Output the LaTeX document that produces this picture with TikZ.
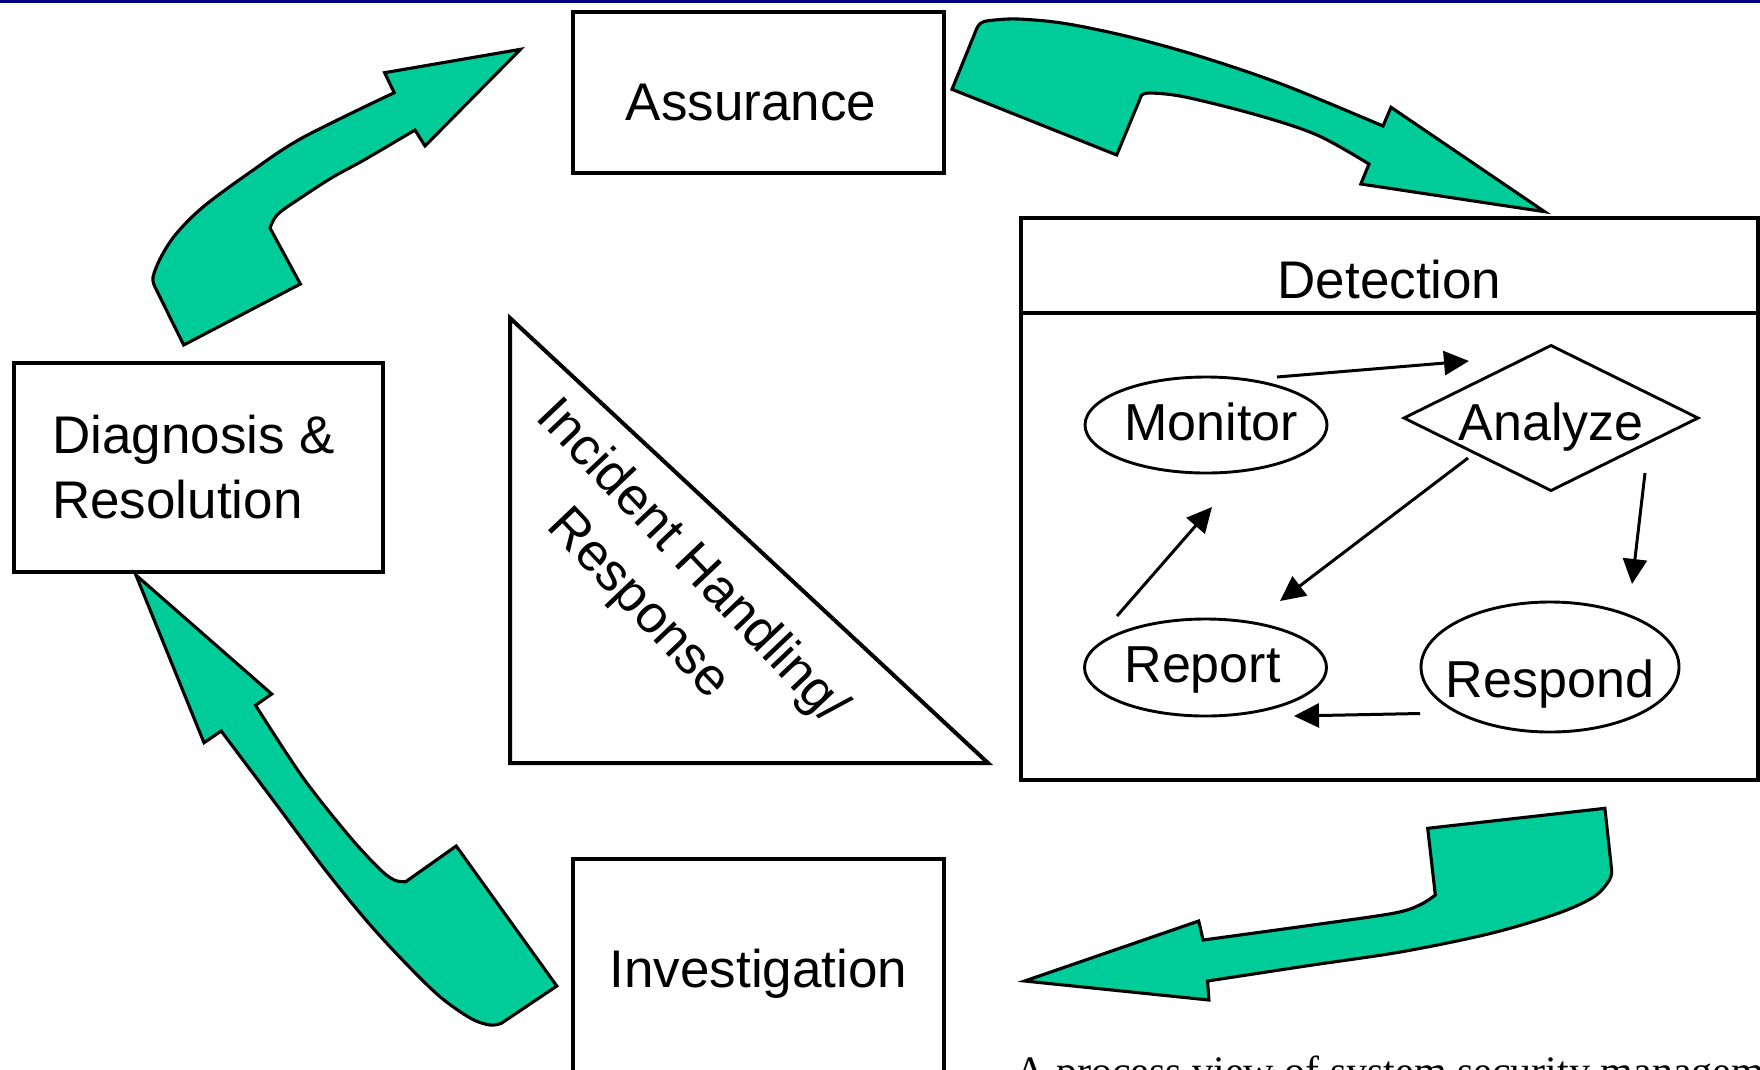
\documentclass[tikz,border=0pt]{standalone}
\usepackage{fontspec}
\setmainfont{Liberation Sans}
\newfontfamily\capfont{Liberation Serif}
\usetikzlibrary{shapes.geometric,arrows.meta}
\definecolor{arrowgreen}{RGB}{0,204,153}
\definecolor{topnavy}{RGB}{0,0,128}
\begin{document}
\begin{tikzpicture}[x=1pt,y=-1pt,
  bigfont/.style={font=\fontsize{53}{65}\selectfont},
  smallfont/.style={font=\fontsize{52}{62}\selectfont},
  boxnode/.style={draw, rectangle, line width=3.3pt, inner sep=0pt, outer sep=0pt, bigfont},
  ellnode/.style={draw, ellipse, line width=2.9pt, inner sep=0pt, outer sep=0pt, smallfont},
  dianode/.style={draw, diamond, line width=2.9pt, inner sep=0pt, outer sep=0pt, smallfont},
  flow/.style={line width=3pt, -{Triangle[length=25pt,width=24pt]}},
  bigarrow/.style={fill=arrowgreen, draw=black, line width=3.1pt, line join=miter}
]
\useasboundingbox (0,0) rectangle (1760,1069);
\clip (0,0) rectangle (1760,1069);
\fill[topnavy] (0,0) rectangle (1760,2.5);

% green process arrows
\draw[bigarrow] (183.7,345) -- (300.4,284) -- (270,228)
 -- plot[smooth, tension=0.55] coordinates {(270,228) (278,214) (302,197) (333,177) (364,160) (415,130)}
 -- (425,146) -- (520.5,49.3) -- (384.6,72.7) -- (394.2,92.7)
 -- plot[smooth, tension=0.55] coordinates {(394.2,92.7) (302,138) (249,173) (203,207) (176,234) (161,257) (153,277) (155,287)}
 -- cycle;
\draw[bigarrow] (952,89.3) -- (976.8,28.3)
 -- plot[smooth, tension=0.55] coordinates {(976.8,28.3) (981,23) (990,20.5) (1018,19) (1065,23.5) (1130,37) (1202,57) (1284,85) (1383,126)}
 -- (1391,107.3) -- (1544.6,211.7) -- (1360.8,184) -- (1369,164)
 -- plot[smooth, tension=0.55] coordinates {(1369,164) (1317,135) (1257,115) (1185,97) (1150,93) (1141.4,95.5)}
 -- (1116.7,155) -- cycle;
\draw[bigarrow] (1427.7,828.3) -- (1604.9,808.3) -- (1611.6,870)
 -- plot[smooth, tension=0.55] coordinates {(1611.6,870) (1609.4,880) (1594,896.7) (1558,913.3) (1491,933.3) (1402,951.7) (1312.5,965) (1207.6,981)}
 -- (1208.9,1000) -- (1024.6,981) -- (1198.7,921) -- (1203.1,940)
 -- plot[smooth, tension=0.55] coordinates {(1203.1,940) (1312.5,925) (1393,913.3) (1419.6,905) (1435.3,895)}
 -- cycle;
\draw[bigarrow] (135.9,575) -- (271.7,694) -- (255.6,705.3)
 -- plot[smooth, tension=0.55] coordinates {(255.6,705.3) (302.3,776.7) (348.3,835) (378.9,868.3) (394.2,880) (405.7,881.7)}
 -- (456.2,846) -- (556.8,986) -- (501.3,1023.3)
 -- plot[smooth, tension=0.55] coordinates {(501.3,1023.3) (490,1025) (470.7,1018.3) (440,996.7) (405.7,963.3) (367.4,921.7) (325.3,870) (275.5,803.3) (221.2,731)}
 -- (204,742.7) -- cycle;

% boxes
\node[boxnode, minimum width=371pt, minimum height=161pt, text height=60pt, text depth=5pt] (assur) at (758.5,92.5) {\hspace*{-15pt}Assurance};
\node[boxnode, minimum width=371pt, minimum height=232pt, text height=38pt, text depth=14pt] (invest) at (758.5,975) {Investigation};
\node[boxnode, minimum width=369pt, minimum height=209pt, align=left] (diag) at (198.5,467.5) {\hspace*{-10pt}Diagnosis \&\\\hspace*{-10pt}Resolution};
\node[boxnode, minimum width=737pt, minimum height=95pt, text height=70pt, text depth=5pt] (dethead) at (1389.5,265.5) {Detection};
\node[boxnode, minimum width=737pt, minimum height=467pt] (detbody) at (1389.5,546.5) {};

% detection cycle
\node[ellnode, minimum width=242pt, minimum height=96pt, text height=30pt, text depth=0pt] (mon) at (1206,425) {\makebox[0pt]{\hspace*{10pt}Monitor}};
\node[dianode, minimum width=294pt, minimum height=145pt, text height=44pt, text depth=0pt] (ana) at (1551,418) {\makebox[0pt]{Analyze}};
\node[ellnode, minimum width=242pt, minimum height=97pt, text height=29pt, text depth=0pt] (rep) at (1205.5,667.5) {\makebox[0pt]{\hspace*{-6pt}Report}};
\node[ellnode, minimum width=258pt, minimum height=130pt, text height=60pt, text depth=0pt] (res) at (1550,667) {\makebox[0pt]{Respond}};

\draw[flow] ([shift={(71,-48)}]mon.center) -- ([shift={(-82,-57)}]ana.center);
\draw[flow] ([shift={(-83,40)}]ana.center) -- ([shift={(74.5,-66.5)}]rep.center);
\draw[flow] ([shift={(94,55)}]ana.center) -- ([shift={(82,-83)}]res.center);
\draw[flow] ([shift={(-130,46.5)}]res.center) -- ([shift={(88.5,48.5)}]rep.center);
\draw[flow] ([shift={(-88.5,-51.5)}]rep.center) -- ([shift={(6,82)}]mon.center);

% incident handling triangle
\draw[line width=4pt, line join=miter] (510,318) -- (510,763) -- (988,763) -- cycle;
\node[bigfont, rotate=-46.5, anchor=base, inner sep=0pt] (ihr1) at (681,572) {Incident Handling/};
\node[bigfont, rotate=-46.5, anchor=base, inner sep=0pt] (ihr2) at (628,614) {Response};

% caption
\node[anchor=base west, inner sep=0pt, font=\capfont\fontsize{42}{50}\selectfont] (cap) at (1015,1085) {A process view of system security management};
\end{tikzpicture}
\end{document}
